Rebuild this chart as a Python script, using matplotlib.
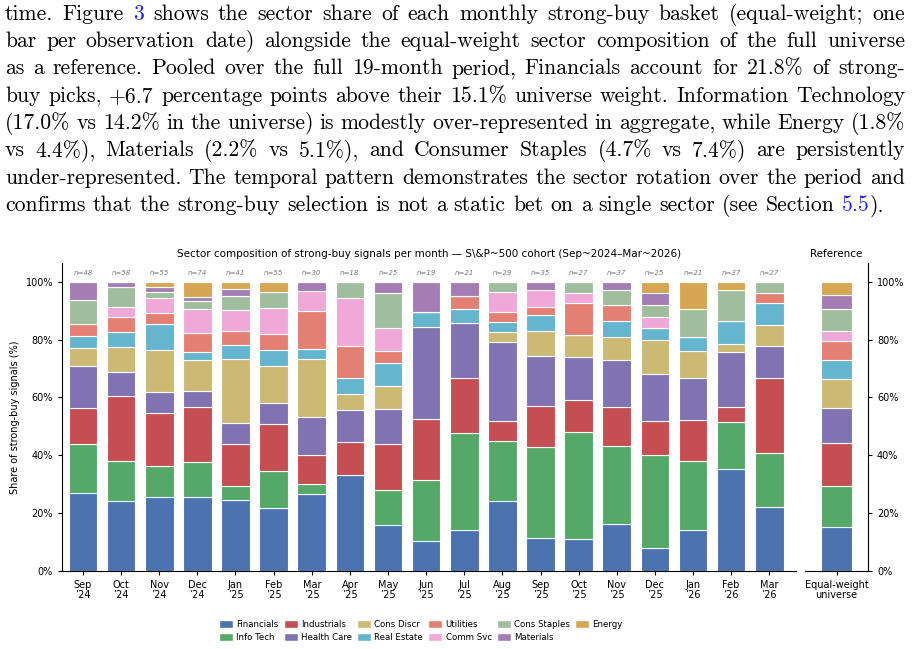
import numpy as np
import matplotlib
matplotlib.use("Agg")
import matplotlib.pyplot as plt
from matplotlib.patches import Patch

# months on the x axis
months = ["Sep", "Oct", "Nov", "Dec", "Jan", "Feb", "Mar", "Apr", "May", "Jun",
          "Jul", "Aug", "Sep", "Oct", "Nov", "Dec", "Jan", "Feb", "Mar"]
years = ["24", "24", "24", "24", "25", "25", "25", "25", "25", "25",
         "25", "25", "25", "25", "25", "25", "26", "26", "26"]

sectors = ["Financials", "Info Tech", "Industrials", "Health Care", "Cons Discr",
           "Real Estate", "Utilities", "Comm Svc", "Cons Staples", "Materials", "Energy"]
colors = ["#4C72B0", "#55A868", "#C44E52", "#8172B2", "#CCB974",
          "#64B5CD", "#E48073", "#F0A8D8", "#A0BE9E", "#A57DB5", "#D6A652"]

# number of strong-buy picks per sector per month
financials = [13, 14, 14, 19, 10, 12, 8, 6, 4, 2, 3, 7, 4, 3, 6, 2, 3, 13, 6]
info_tech = [8, 8, 6, 9, 2, 7, 1, 0, 3, 4, 7, 6, 11, 10, 10, 8, 5, 6, 5]
industrials = [6, 13, 10, 14, 6, 9, 3, 2, 4, 4, 4, 2, 5, 3, 5, 3, 3, 2, 7]
health_care = [7, 5, 4, 4, 3, 4, 4, 2, 3, 6, 4, 8, 6, 4, 6, 4, 3, 7, 3]
cons_discr = [3, 5, 8, 8, 9, 7, 6, 1, 2, 0, 0, 1, 3, 2, 3, 3, 2, 1, 2]
real_estate = [2, 3, 5, 2, 2, 3, 1, 1, 2, 1, 1, 1, 2, 0, 2, 1, 1, 3, 2]
utilities = [2, 3, 2, 5, 2, 3, 4, 2, 1, 0, 1, 1, 1, 3, 2, 0, 0, 0, 1]
comm_svc = [0, 2, 3, 6, 3, 5, 2, 3, 2, 0, 0, 2, 2, 1, 0, 1, 0, 0, 0]
cons_staples = [4, 4, 1, 2, 2, 3, 0, 1, 3, 0, 0, 1, 0, 1, 2, 1, 2, 4, 1]
materials = [3, 1, 1, 1, 1, 0, 1, 0, 1, 2, 1, 0, 1, 0, 1, 1, 0, 0, 0]
energy = [0, 0, 1, 4, 1, 2, 0, 0, 0, 0, 0, 0, 0, 0, 0, 1, 2, 1, 0]

# equal-weight universe composition (%)
universe = [15.1, 14.2, 15.0, 12.2, 9.9, 6.5, 6.6, 3.6, 7.4, 5.1, 4.4]

counts = np.array([financials, info_tech, industrials, health_care, cons_discr,
                   real_estate, utilities, comm_svc, cons_staples, materials, energy], dtype=float)
n_obs = counts.sum(axis=0)
shares = counts / n_obs * 100

W, H = 914, 649
fig = plt.figure(figsize=(W / 100, H / 100), dpi=100)

# ---- paragraph above the figure (justified, LaTeX-like) ----
BLUE = "#1f1fff"
para = [
    [[("time.", "k")], [("Figure", "k")], [("3", BLUE)], [("shows", "k")], [("the", "k")], [("sector", "k")],
     [("share", "k")], [("of", "k")], [("each", "k")], [("monthly", "k")], [("strong-buy", "k")],
     [("basket", "k")], [("(equal-weight;", "k")], [("one", "k")]],
    "bar per observation date) alongside the equal-weight sector composition of the full universe",
    "as a reference.  Pooled over the full 19-month period, Financials account for 21.8% of strong-",
    "buy picks, +6.7 percentage points above their 15.1% universe weight. Information Technology",
    "(17.0% vs 14.2% in the universe) is modestly over-represented in aggregate, while Energy (1.8%",
    "vs 4.4%), Materials (2.2% vs 5.1%), and Consumer Staples (4.7% vs 7.4%) are persistently",
    "under-represented. The temporal pattern demonstrates the sector rotation over the period and",
    [[(w, "k")] for w in "confirms that the strong-buy selection is not a static bet on a single sector (see Section".split()]
    + [[("5.5", BLUE), (").", "k")]],
]
txt_kw = dict(family="cmr10", fontsize=15.6, va="baseline", ha="left")
renderer = fig.canvas.get_renderer()


def piece_width(s):
    t = fig.text(0, 0, s, **txt_kw)
    w = t.get_window_extent(renderer).width
    t.remove()
    return w


x_left, x_right = 5, 905
space_w = piece_width("a b") - piece_width("ab")
for i, line in enumerate(para):
    if isinstance(line, str):
        line = [[(w, "k")] for w in line.split()]
    widths = [[piece_width(s) for s, c in word] for word in line]
    total = sum(sum(ws) for ws in widths)
    last = i == len(para) - 1
    gap = space_w if last else (x_right - x_left - total) / (len(line) - 1)
    y = 1 - (19.5 + 27.4 * i) / H
    x = x_left
    for word, ws in zip(line, widths):
        for (s, c), w in zip(word, ws):
            fig.text(x / W, y, s, color=c, **txt_kw)
            x += w
        x += gap

# ---- main stacked bars ----
ax = fig.add_axes([62 / W, 1 - 571 / H, (796 - 62) / W, (571 - 263) / H])
x = np.arange(len(months))
bottom = np.zeros(len(months))
for k in range(len(sectors)):
    ax.bar(x, shares[k], 0.75, bottom=bottom, color=colors[k], edgecolor="white", linewidth=0.8)
    bottom += shares[k]
for i in range(len(months)):
    ax.text(x[i], 103, "n=%d" % n_obs[i], ha="center", va="center", fontsize=5,
            style="italic", color="#777777")
ax.set_xlim(-0.55, 18.7)
ax.set_ylim(0, 106.5)
ax.set_yticks(range(0, 101, 20))
ax.set_yticklabels(["%d%%" % v for v in range(0, 101, 20)], fontsize=7)
ax.set_xticks(x)
ax.set_xticklabels([m + "\n\u2019" + y for m, y in zip(months, years)], fontsize=7, linespacing=1.0)
ax.set_ylabel("Share of strong-buy signals (%)", fontsize=7)
ax.set_title("Sector composition of strong-buy signals per month \u2014 S\\&P~500 cohort (Sep~2024\u2013Mar~2026)",
             fontsize=7.5, pad=4)
ax.spines["top"].set_visible(False)
ax.spines["right"].set_visible(False)
ax.tick_params(length=3, width=0.8)

# ---- reference bar ----
axr = fig.add_axes([805 / W, 1 - 571 / H, 63 / W, (571 - 263) / H])
b = 0
for k in range(len(sectors)):
    axr.bar(0, universe[k], 0.6, bottom=b, color=colors[k], edgecolor="white", linewidth=0.8)
    b += universe[k]
axr.set_xlim(-0.6, 0.6)
axr.set_ylim(0, 106.5)
axr.set_xticks([0])
axr.set_xticklabels(["Equal-weight\nuniverse"], fontsize=7, linespacing=1.0)
axr.yaxis.tick_right()
axr.set_yticks(range(0, 101, 20))
axr.set_yticklabels(["%d%%" % v for v in range(0, 101, 20)], fontsize=7)
axr.spines["top"].set_visible(False)
axr.spines["left"].set_visible(False)
axr.tick_params(length=3, width=0.8)
axr.set_title("Reference", fontsize=7.5, pad=4)

# legend
handles = [Patch(facecolor=c, edgecolor="white", label=s) for s, c in zip(sectors, colors)]
fig.legend(handles=handles, ncol=6, loc="center", bbox_to_anchor=(421 / W, 1 - 631 / H),
           frameon=False, fontsize=6.2, handlelength=1.6, handleheight=1.0,
           columnspacing=0.6, handletextpad=0.4, labelspacing=0.45)

fig.savefig("out.png", dpi=100)
